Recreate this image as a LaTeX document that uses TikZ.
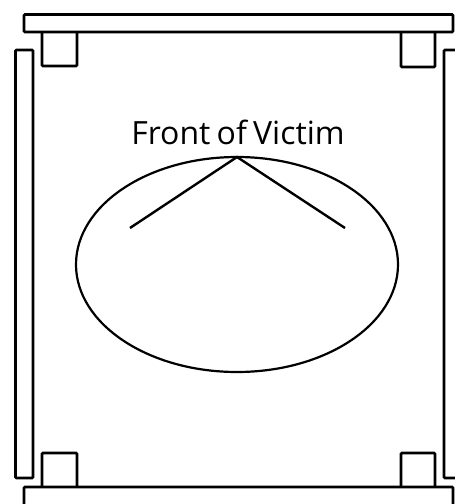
\documentclass[tikz,border=0pt]{standalone}
\usepackage{fontspec}
\setmainfont[WordSpace=0.75]{Open Sans}
\begin{document}
\begin{tikzpicture}[x=1pt,y=-1pt,
  part/.style={draw=black,line width=2.6pt,rounded corners=1pt},
  outline/.style={draw=black,line width=2.2pt},
  limb/.style={draw=black,line width=2.4pt}]
\path[use as bounding box] (0,0) rectangle (455,504);
\clip (0,0) rectangle (455,504);
\fill[white] (0,0) rectangle (455,504);
\path[part] (42,32) -- (42,66) -- (77,66) -- (77,32);
\path[part] (401,32) -- (401,67) -- (435,67) -- (435,32);
\path[part] (42,486) -- (42,453) -- (77,453) -- (77,486);
\path[part] (401,486) -- (401,453) -- (435,453) -- (435,486);
\path[part] (24,14.5) rectangle (453,32);
\path[part] (24,487) rectangle (453,520);
\path[part] (15.5,50) rectangle (33,478);
\path[part] (444,50) rectangle (470,478);
\coordinate (body) at (237,264.5);
\draw[outline] (body) ellipse [x radius=161,y radius=107.5];
\coordinate (apex) at (237,157);
\coordinate (leftarm) at (130,228);
\coordinate (rightarm) at (345,228);
\draw[limb] (leftarm) -- (apex) -- (rightarm);
\node[inner sep=0pt,anchor=base,font=\fontsize{32}{34}\selectfont] (label) at (238,144.5) {Front of Victim};
\end{tikzpicture}
\end{document}
